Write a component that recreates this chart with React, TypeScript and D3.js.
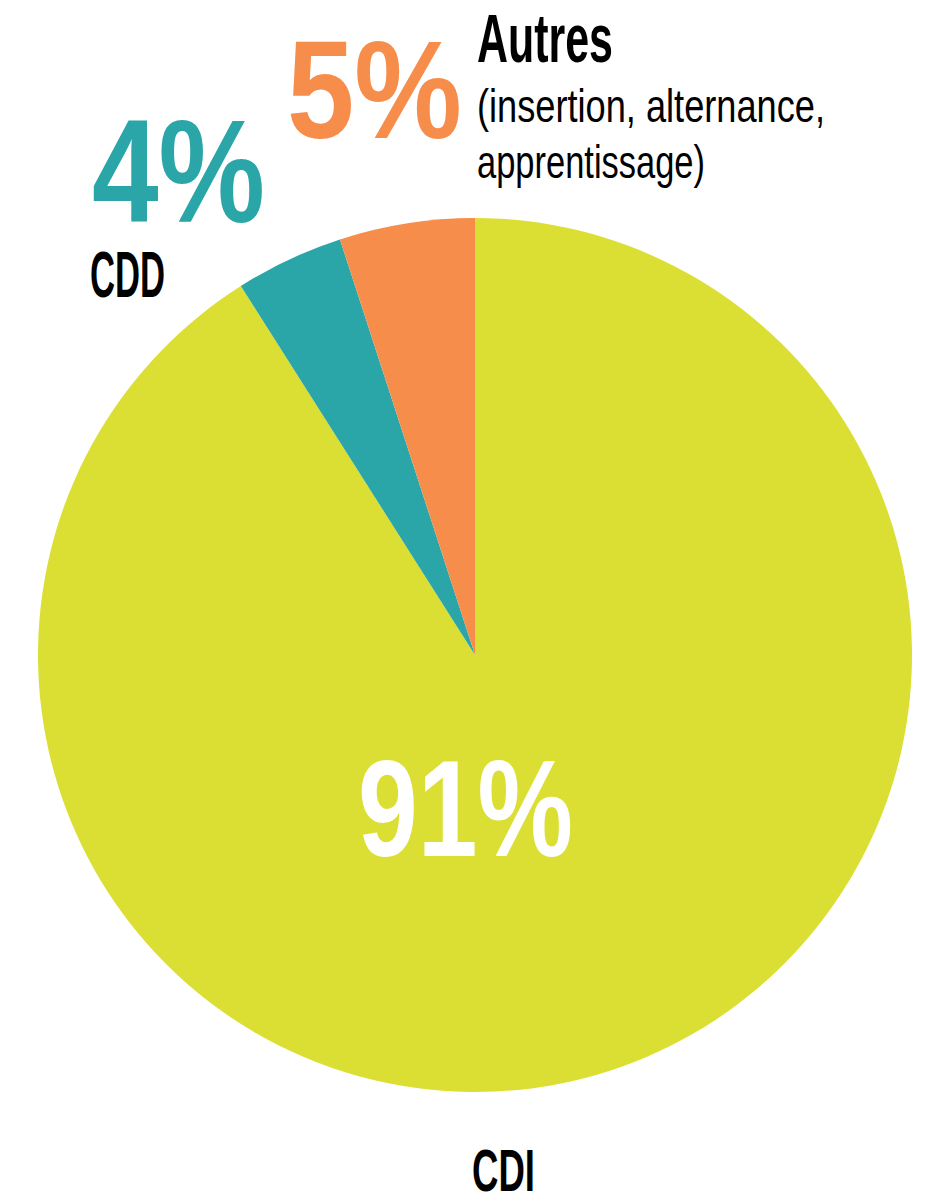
import React from "react";
import * as d3 from "d3";

const categories = ["CDI", "CDD", "Autres"];
const values = [91, 4, 5];
const colors = ["#DCDF33", "#2AA5A8", "#F78D4B"];
const pctLabels = ["91%", "4%", "5%"];
const subLabelLines = ["(insertion, alternance,", "apprentissage)"];

const W = 934;
const H = 1198;
const cx = 475;
const cy = 655;
const R = 437;
const FONT = "'Liberation Sans', Arial, sans-serif";

export default function App() {
  const data = categories.map((c, i) => ({ name: c, value: values[i], color: colors[i] }));
  const pie = d3.pie<any>().sort(null).value((d: any) => d.value);
  const arcs = pie(data);
  const arc = d3.arc<any>().innerRadius(0).outerRadius(R);

  const t = (
    x: number,
    y: number,
    s: string,
    size: number,
    len: number,
    fill: string,
    weight: string | number = "bold"
  ) => (
    <text
      x={x}
      y={y}
      fontFamily={FONT}
      fontSize={size}
      fontWeight={weight}
      fill={fill}
      textLength={len}
      lengthAdjust="spacingAndGlyphs"
    >
      {s}
    </text>
  );

  return (
    <svg
      width={W}
      height={H}
      style={{ position: "absolute", left: 0, top: 0, display: "block", background: "#fff" }}
    >
      <g transform={`translate(${cx},${cy})`}>
        {arcs.map((a, i) => (
          <path key={i} d={arc(a) as string} fill={a.data.color} />
        ))}
      </g>
      {/* 91% CDI */}
      {t(358, 856, pctLabels[0], 138, 215, "#FFFFFF")}
      {t(472, 1191, categories[0], 60, 63, "#000000")}
      {/* 4% CDD */}
      {t(92, 222, pctLabels[1], 146, 173, colors[1])}
      {t(90, 297, categories[1], 64, 75, "#000000")}
      {/* 5% Autres */}
      {t(287, 138, pctLabels[2], 139, 175, colors[2])}
      {t(477, 62, categories[2], 69, 136, "#000000")}
      {t(477, 122, subLabelLines[0], 46, 348, "#000000", "normal")}
      {t(477, 178, subLabelLines[1], 46, 228, "#000000", "normal")}
    </svg>
  );
}
